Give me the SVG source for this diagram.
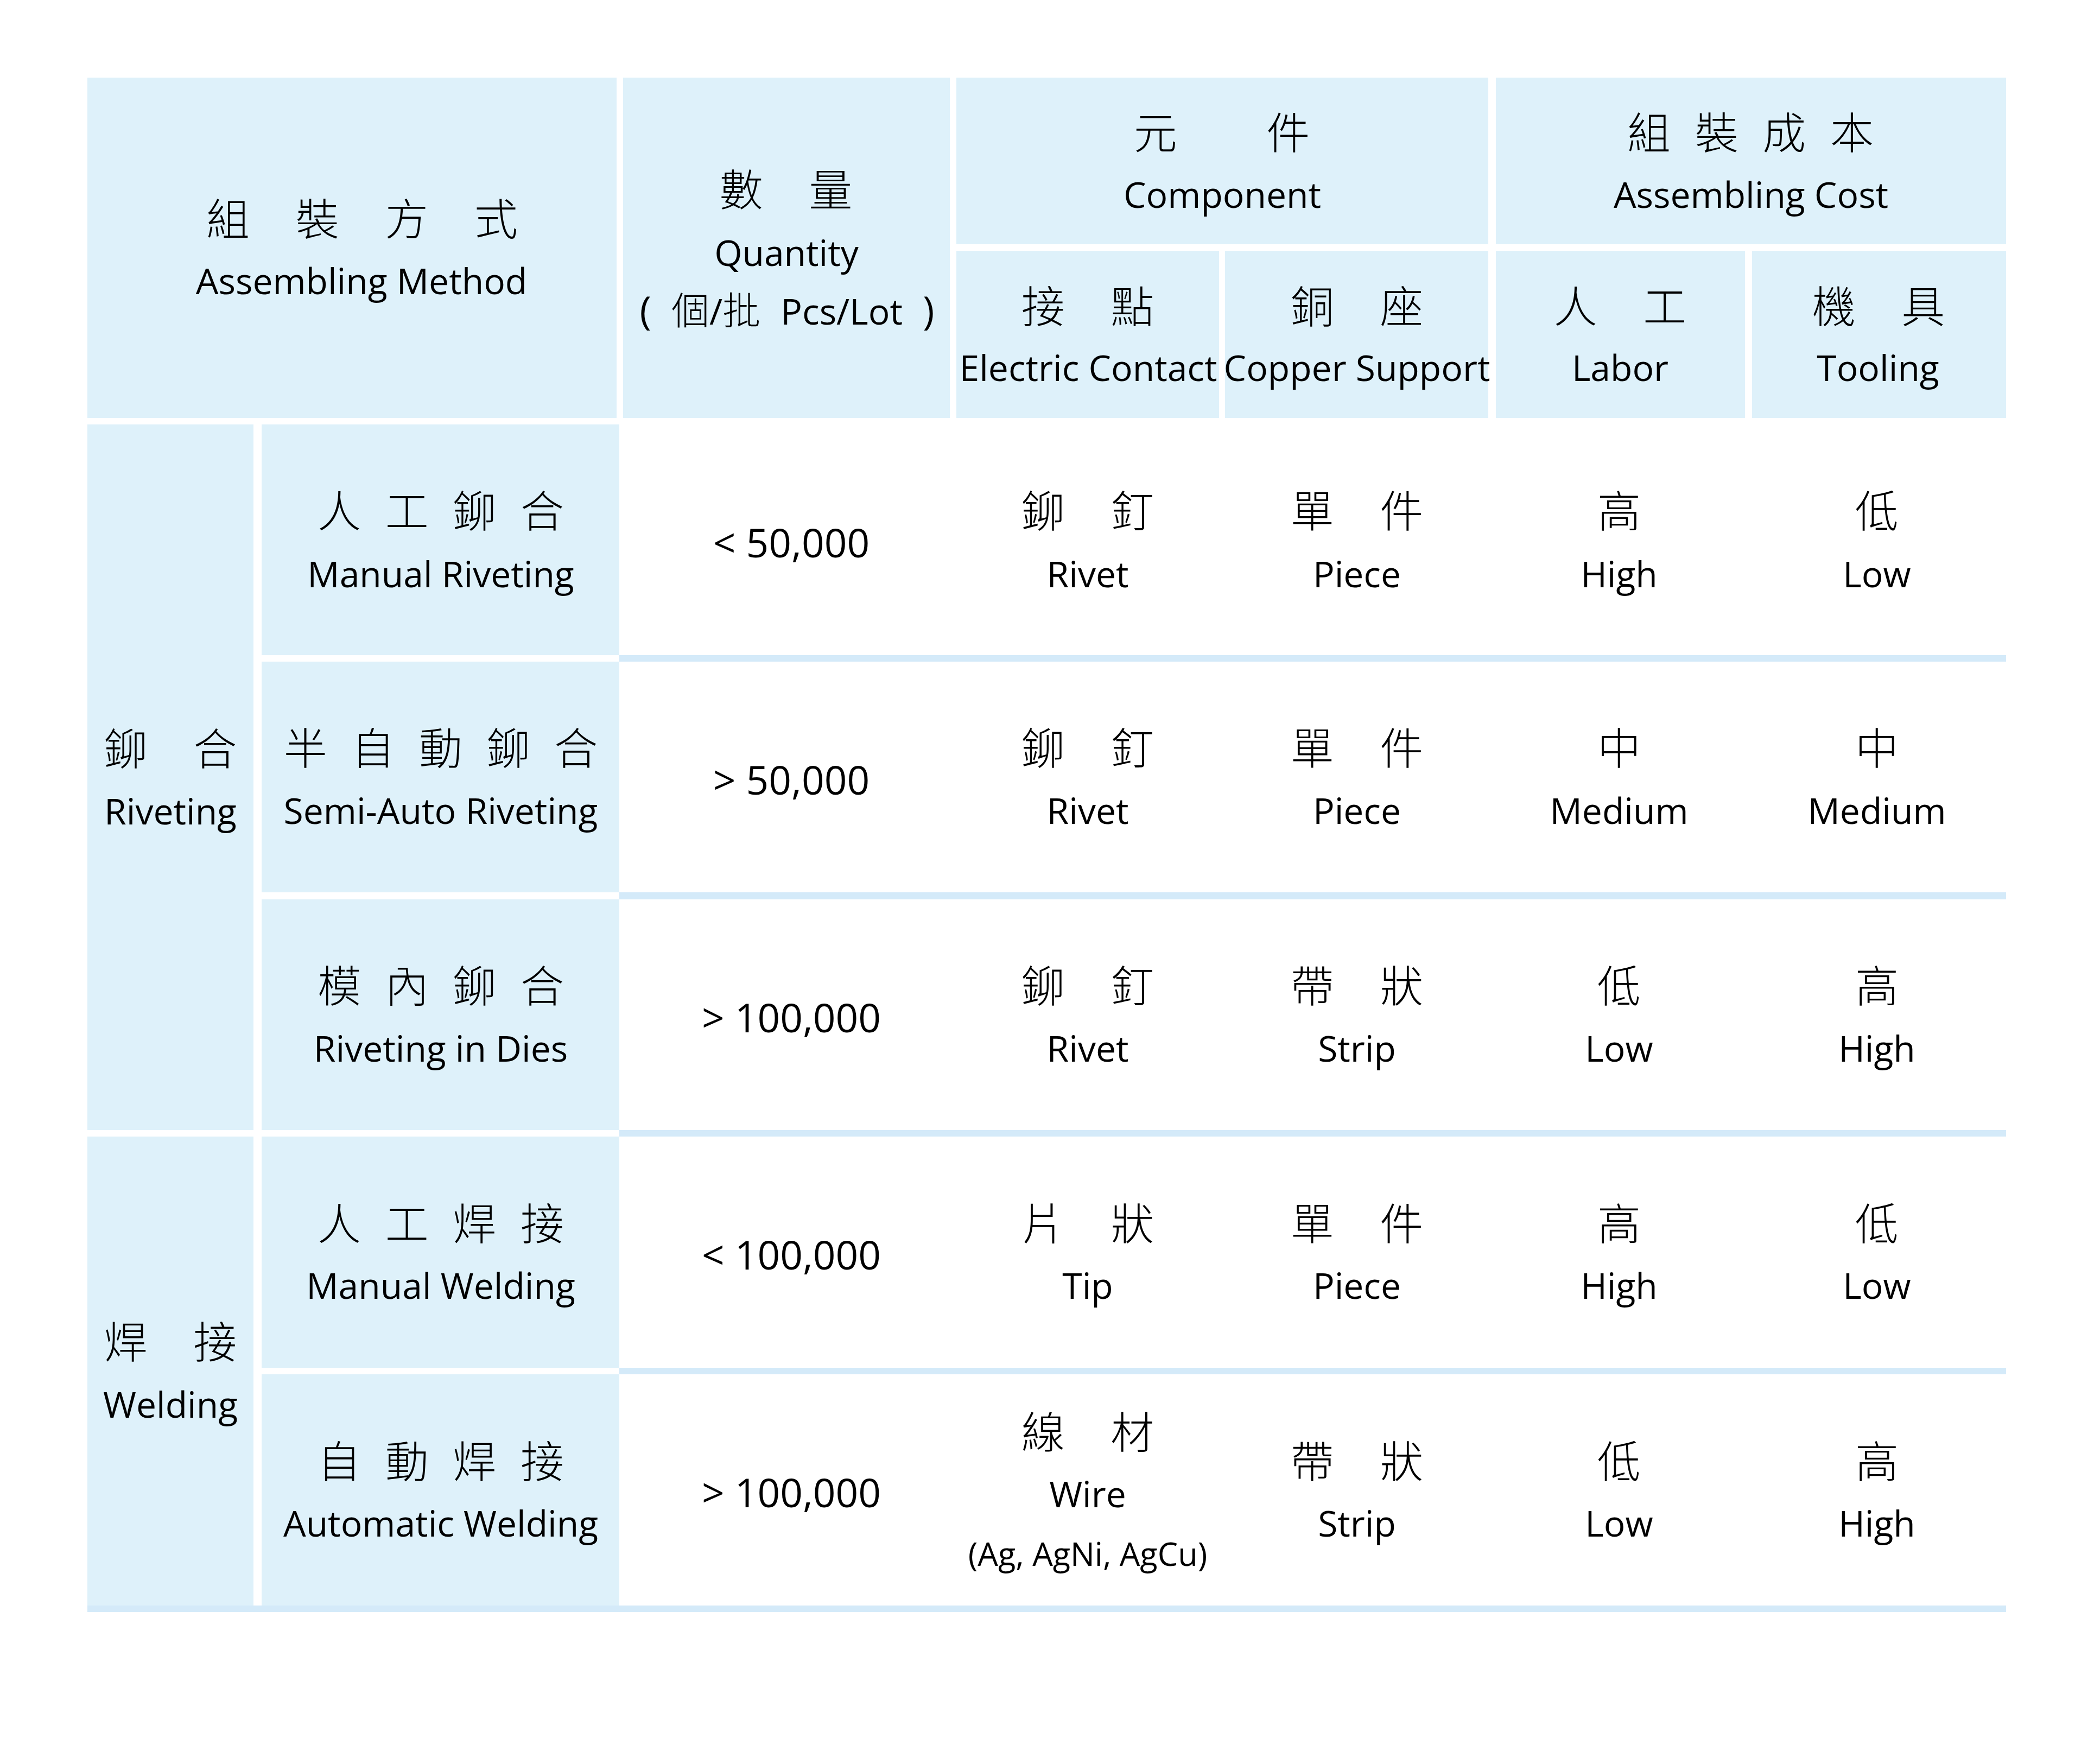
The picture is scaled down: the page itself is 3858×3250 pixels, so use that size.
<svg xmlns="http://www.w3.org/2000/svg" width="3858" height="3250" viewBox="0 0 3858 3250">
<defs>
<style>
.c{fill:#DEF1FA}
.b{fill:#D4EAF9}
.cj{font-family:"Noto Sans CJK TC","Noto Sans CJK SC",sans-serif;font-size:80px;font-weight:300;fill:#000;text-anchor:middle}
.w{word-spacing:67px}
.n{word-spacing:27px}
.xw{word-spacing:147px}
.en{font-family:"Open Sans","Noto Sans CJK TC",sans-serif;font-size:66px;fill:#000;text-anchor:middle}
.q{font-size:73px}
.s{font-size:59.5px}
.k{font-family:"Noto Sans CJK TC",sans-serif;font-size:70px;font-weight:300}
.p{font-size:72px}
</style>
</defs>
<rect x="0" y="0" width="3858" height="3250" fill="#FFFFFF"/>

<g id="header">
<g id="h-method">
<rect class="c" x="161" y="143" width="975" height="627"/>
<text class="cj w" x="667" y="433">組 裝 方 式</text>
<text class="en" x="666" y="542">Assembling Method</text>
</g>
<g id="h-quantity">
<rect class="c" x="1148" y="143" width="602" height="627"/>
<text class="cj w" x="1448" y="379">數 量</text>
<text class="en" x="1449" y="490">Quantity</text>
<text class="en" x="1450" y="598" font-size="62" word-spacing="20"><tspan class="p">(</tspan> <tspan class="k">個</tspan>/<tspan class="k">批</tspan> Pcs/Lot <tspan class="p">)</tspan></text>
</g>
<g id="h-component">
<rect class="c" x="1762" y="143" width="980" height="307"/>
<text class="cj xw" x="2251" y="274">元 件</text>
<text class="en" x="2252" y="383">Component</text>
</g>
<g id="h-cost">
<rect class="c" x="2756" y="143" width="940" height="307"/>
<text class="cj n" x="3225" y="274">組 裝 成 本</text>
<text class="en" x="3226" y="383">Assembling Cost</text>
</g>
<g id="h-contact">
<rect class="c" x="1762" y="462" width="484" height="308"/>
<text class="cj w" x="2004" y="594">接 點</text>
<text class="en" x="2005" y="702">Electric Contact</text>
</g>
<g id="h-copper">
<rect class="c" x="2257" y="462" width="485" height="308"/>
<text class="cj w" x="2500" y="594">銅 座</text>
<text class="en" x="2500" y="702">Copper Support</text>
</g>
<g id="h-labor">
<rect class="c" x="2756" y="462" width="459" height="308"/>
<text class="cj w" x="2985" y="594">人 工</text>
<text class="en" x="2985" y="702">Labor</text>
</g>
<g id="h-tooling">
<rect class="c" x="3228" y="462" width="468" height="308"/>
<text class="cj w" x="3461" y="594">機 具</text>
<text class="en" x="3460" y="702">Tooling</text>
</g>
</g>

<g id="separators">
<rect class="b" x="1141" y="1207" width="2555" height="12"/>
<rect class="b" x="1141" y="1644" width="2555" height="13"/>
<rect class="b" x="1141" y="2082" width="2555" height="12"/>
<rect class="b" x="1141" y="2520" width="2555" height="12"/>
<rect class="b" x="161" y="2958" width="3535" height="12"/>
</g>

<g id="g-riveting">
<rect class="c" x="161" y="782" width="306" height="1300"/>
<text class="cj w" x="314" y="1409">鉚 合</text>
<text class="en" x="314" y="1519">Riveting</text>
</g>
<g id="g-welding">
<rect class="c" x="161" y="2094" width="306" height="864"/>
<text class="cj w" x="314" y="2502">焊 接</text>
<text class="en" x="314" y="2612">Welding</text>
</g>

<g id="row1">
<rect class="c" x="482" y="782" width="659" height="425"/>
<text class="cj n" x="812" y="971">人 工 鉚 合</text>
<text class="en" x="812" y="1082">Manual Riveting</text>
<text class="en q" x="1458" y="1027">&lt; 50,000</text>
<text class="cj w" x="2004" y="971">鉚 釘</text>
<text class="en" x="2004" y="1082">Rivet</text>
<text class="cj w" x="2500" y="971">單 件</text>
<text class="en" x="2500" y="1082">Piece</text>
<text class="cj" x="2983" y="971">高</text>
<text class="en" x="2983" y="1082">High</text>
<text class="cj" x="3458" y="971">低</text>
<text class="en" x="3458" y="1082">Low</text>
</g>

<g id="row2">
<rect class="c" x="482" y="1219" width="659" height="425"/>
<text class="cj n" x="812" y="1408">半 自 動 鉚 合</text>
<text class="en" x="812" y="1518">Semi-Auto Riveting</text>
<text class="en q" x="1458" y="1464">&gt; 50,000</text>
<text class="cj w" x="2004" y="1408">鉚 釘</text>
<text class="en" x="2004" y="1518">Rivet</text>
<text class="cj w" x="2500" y="1408">單 件</text>
<text class="en" x="2500" y="1518">Piece</text>
<text class="cj" x="2983" y="1408">中</text>
<text class="en" x="2983" y="1518">Medium</text>
<text class="cj" x="3458" y="1408">中</text>
<text class="en" x="3458" y="1518">Medium</text>
</g>

<g id="row3">
<rect class="c" x="482" y="1657" width="659" height="425"/>
<text class="cj n" x="812" y="1846">模 內 鉚 合</text>
<text class="en" x="812" y="1956">Riveting in Dies</text>
<text class="en q" x="1458" y="1902">&gt; 100,000</text>
<text class="cj w" x="2004" y="1846">鉚 釘</text>
<text class="en" x="2004" y="1956">Rivet</text>
<text class="cj w" x="2500" y="1846">帶 狀</text>
<text class="en" x="2500" y="1956">Strip</text>
<text class="cj" x="2983" y="1846">低</text>
<text class="en" x="2983" y="1956">Low</text>
<text class="cj" x="3458" y="1846">高</text>
<text class="en" x="3458" y="1956">High</text>
</g>

<g id="row4">
<rect class="c" x="482" y="2094" width="659" height="426"/>
<text class="cj n" x="812" y="2284">人 工 焊 接</text>
<text class="en" x="812" y="2393">Manual Welding</text>
<text class="en q" x="1458" y="2339">&lt; 100,000</text>
<text class="cj w" x="2004" y="2284">片 狀</text>
<text class="en" x="2004" y="2393">Tip</text>
<text class="cj w" x="2500" y="2284">單 件</text>
<text class="en" x="2500" y="2393">Piece</text>
<text class="cj" x="2983" y="2284">高</text>
<text class="en" x="2983" y="2393">High</text>
<text class="cj" x="3458" y="2284">低</text>
<text class="en" x="3458" y="2393">Low</text>
</g>

<g id="row5">
<rect class="c" x="482" y="2532" width="659" height="426"/>
<text class="cj n" x="812" y="2722">自 動 焊 接</text>
<text class="en" x="812" y="2831">Automatic Welding</text>
<text class="en q" x="1458" y="2777">&gt; 100,000</text>
<text class="cj w" x="2004" y="2668">線 材</text>
<text class="en" x="2004" y="2777">Wire</text>
<text class="en s" x="2004" y="2885">(Ag, AgNi, AgCu)</text>
<text class="cj w" x="2500" y="2722">帶 狀</text>
<text class="en" x="2500" y="2831">Strip</text>
<text class="cj" x="2983" y="2722">低</text>
<text class="en" x="2983" y="2831">Low</text>
<text class="cj" x="3458" y="2722">高</text>
<text class="en" x="3458" y="2831">High</text>
</g>
</svg>
